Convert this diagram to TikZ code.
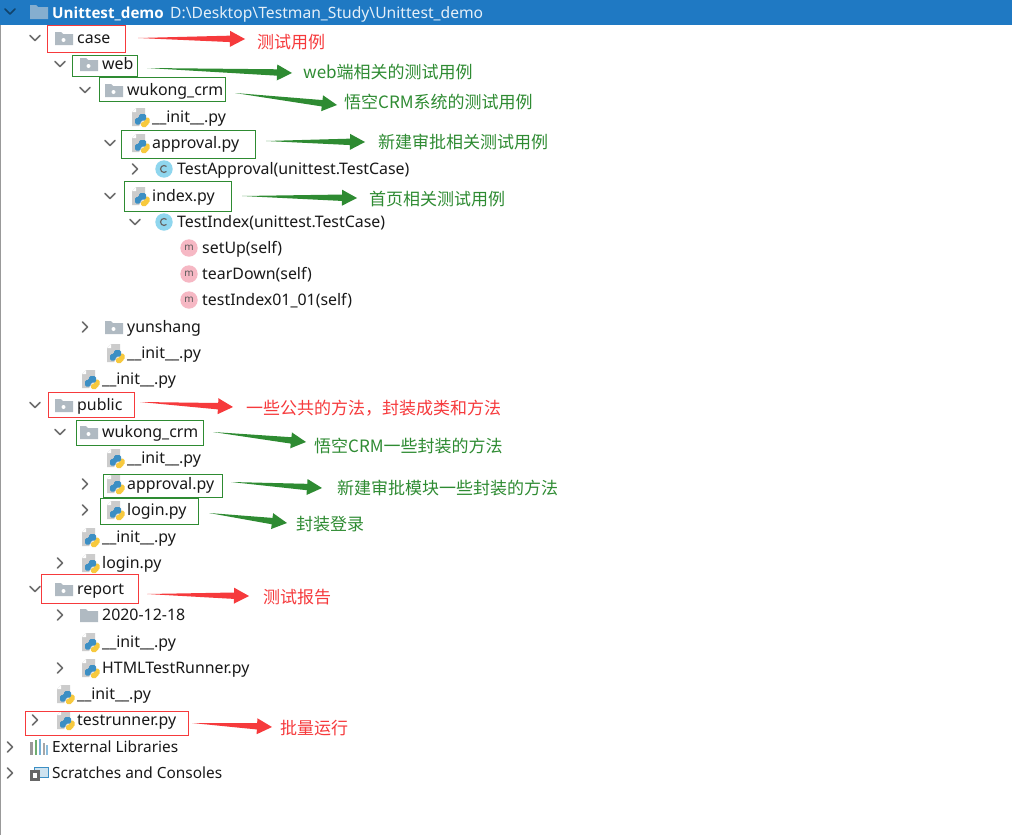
\documentclass[tikz,border=0pt]{standalone}
\usepackage{fontspec}
\setmainfont{Noto Sans}
\newfontfamily\cjkfont{Noto Sans CJK SC}
\newfontfamily\titlefont{Open Sans}
\usetikzlibrary{calc,fit}
\definecolor{hdr}{HTML}{1F79C3}
\definecolor{rd}{HTML}{F63A3C}
\definecolor{gn}{HTML}{2E8B32}
\definecolor{gl}{HTML}{B0BAC2}
\definecolor{chev}{HTML}{6E6E6E}
\definecolor{pyb}{HTML}{3C8FC4}
\definecolor{pyy}{HTML}{F7C93E}
\definecolor{cc}{HTML}{8FD6EE}
\definecolor{mm}{HTML}{F6B8C4}
\tikzset{
  x=1pt,y=-1pt,
  rowtext/.style={anchor=base west,inner sep=0pt,text=black!90,font=\fontsize{15.9}{18}\selectfont},
  lab/.style={anchor=west,inner sep=0pt,font=\cjkfont\fontsize{17}{19}\selectfont},
  redbox/.style={draw=rd,line width=1pt,inner sep=0pt},
  greenbox/.style={draw=gn,line width=1pt,inner sep=0pt},
  chevline/.style={draw=chev,line width=1.5pt,line cap=round,line join=round}
}
\newcommand{\cdown}[2]{\draw[chevline] (#1-5,#2-2.5) -- (#1,#2+2.5) -- (#1+5,#2-2.5);}
\newcommand{\cright}[2]{\draw[chevline] (#1-2.5,#2-5) -- (#1+2.5,#2) -- (#1-2.5,#2+5);}
\newcommand{\folder}[2]{% #1 text left, #2 row y
  \fill[gl] (#1-22,#2-6) -- (#1-16,#2-6) -- (#1-14,#2-4) -- (#1-4,#2-4) -- (#1-4,#2+7) -- (#1-22,#2+7) -- cycle;}
\newcommand{\pkgfolder}[2]{\folder{#1}{#2}\fill[white] (#1-13.5,#2+2) circle (2pt);}
\newcommand{\pyfile}[2]{%
  \fill[black!20] (#1-16,#2-9) -- (#1-7,#2-9) -- (#1-7,#2+1) -- (#1-13,#2+9) -- (#1-20,#2+9) -- (#1-20,#2-5) -- cycle;
  \fill[white] (#1-16,#2-9) -- (#1-16,#2-5) -- (#1-20,#2-5) -- cycle;
  \fill[pyy,rounded corners=1.5pt] (#1-7.5,#2+0.5) -- (#1-2.5,#2+0.5) -- (#1-2.5,#2+7) -- (#1-5,#2+7) -- (#1-5,#2+10) -- (#1-11,#2+10) -- (#1-11,#2+5) -- (#1-7.5,#2+5) -- cycle;
  \fill[pyb,rounded corners=1.5pt] (#1-13,#2-3) -- (#1-6,#2-3) -- (#1-6,#2+3.5) -- (#1-11.5,#2+3.5) -- (#1-11.5,#2+7.5) -- (#1-17,#2+7.5) -- (#1-17,#2+1) -- (#1-13,#2+1) -- cycle;}
\newcommand{\classicon}[2]{\fill[cc] (#1-13,#2) circle (8.7pt);
  \draw[black!60,line width=1.2pt] (#1-10.5,#2-2.5) arc (45:315:3.5pt);}
\newcommand{\methicon}[2]{\fill[mm] (#1-13,#2) circle (8.7pt);
  \node[inner sep=0pt,text=black!65,font=\fontsize{10}{10}\selectfont] at (#1-13,#2) {m};}
\newcommand{\row}[4]{\node[rowtext] (#1) at (#2,#3+5.8) {#4};}
\newcommand{\bx}[6]{\node[#2,fit={(#3,#4) (#5,#6)}] (#1) {};}
\newcommand{\tarrow}[3]{%
  \fill[#1] (#2)
   -- ($($(#3)!15pt!(#2)$)!3.2pt!90:(#2)$)
   -- ($($(#3)!15pt!(#2)$)!8pt!90:(#2)$)
   -- (#3)
   -- ($($(#3)!15pt!(#2)$)!8pt!-90:(#2)$)
   -- ($($(#3)!15pt!(#2)$)!3.2pt!-90:(#2)$)
   -- cycle;}
\begin{document}
\begin{tikzpicture}
\useasboundingbox (0,0) rectangle (1012,835);
\fill[white] (0,0) rectangle (1012,835);
\fill[black!40] (0,0) rectangle (1.2,835);
\fill[hdr] (0,0) rectangle (1012,25);
\draw[draw=black!45!hdr,line width=1.5pt,line cap=round,line join=round] (5,9) -- (10,14) -- (15,9);
\fill[black!15!white!55!hdr] (30,5) -- (36,5) -- (38,7) -- (48,7) -- (48,19) -- (30,19) -- cycle;
\node[anchor=base west,inner sep=0pt,text=white,font=\titlefont\bfseries\fontsize{15.2}{18}\selectfont] (title) at (52,18) {Unittest\_demo};
\node[anchor=base west,inner sep=0pt,text=white!88!hdr,font=\fontsize{15.65}{18}\selectfont] (path) at (170,18) {D:\textbackslash Desktop\textbackslash Testman\_Study\textbackslash Unittest\_demo};

% tree
\cdown{35}{38}\pkgfolder{77}{38}\row{r1}{77}{38}{case}
\cdown{60}{64}\pkgfolder{102}{64}\row{r2}{102}{64}{web}
\cdown{85}{90}\pkgfolder{127}{90}\row{r3}{127}{90}{wukong\_crm}
\pyfile{152}{117}\row{r4}{152}{117}{\_\_init\_\_.py}
\cdown{110}{143}\pyfile{152}{143}\row{r5}{152}{143}{approval.py}
\cright{135}{169}\classicon{177}{169}\row{r6}{177}{169}{TestApproval(unittest.TestCase)}
\cdown{110}{196}\pyfile{152}{196}\row{r7}{152}{196}{index.py}
\cdown{135}{222}\classicon{177}{222}\row{r8}{177}{222}{TestIndex(unittest.TestCase)}
\methicon{202}{248}\row{r9}{202}{248}{setUp(self)}
\methicon{202}{274}\row{r10}{202}{274}{tearDown(self)}
\methicon{202}{300}\row{r11}{202}{300}{testIndex01\_01(self)}
\cright{85}{327}\pkgfolder{127}{327}\row{r12}{127}{327}{yunshang}
\pyfile{127}{353}\row{r13}{127}{353}{\_\_init\_\_.py}
\pyfile{102}{379}\row{r14}{102}{379}{\_\_init\_\_.py}
\cdown{35}{405}\pkgfolder{77}{405}\row{r15}{77}{405}{public}
\cdown{60}{432}\pkgfolder{102}{432}\row{r16}{102}{432}{wukong\_crm}
\pyfile{127}{458}\row{r17}{127}{458}{\_\_init\_\_.py}
\cright{85}{484}\pyfile{127}{484}\row{r18}{127}{484}{approval.py}
\cright{85}{510}\pyfile{127}{510}\row{r19}{127}{510}{login.py}
\pyfile{102}{537}\row{r20}{102}{537}{\_\_init\_\_.py}
\cright{60}{563}\pyfile{102}{563}\row{r21}{102}{563}{login.py}
\cdown{35}{589}\pkgfolder{77}{589}\row{r22}{77}{589}{report}
\cright{60}{615}\folder{102}{615}\row{r23}{102}{615}{2020-12-18}
\pyfile{102}{642}\row{r24}{102}{642}{\_\_init\_\_.py}
\cright{60}{668}\pyfile{102}{668}\row{r25}{102}{668}{HTMLTestRunner.py}
\pyfile{77}{694}\row{r26}{77}{694}{\_\_init\_\_.py}
\cright{35}{720}\pyfile{77}{720}\row{r27}{77}{720}{testrunner.py}
\cright{10}{747}
\fill[black!40] (30,742) rectangle (33,755);
\fill[gn!70!white] (35,740) rectangle (37,755);
\fill[pyb!70!white] (39,739) rectangle (41,755);
\fill[black!35] (43,743) rectangle (45,755);
\fill[pyb!60!white] (46,745) rectangle (48,755);
\row{r28}{52}{747}{\fontsize{15.4}{18}\selectfont External Libraries}
\cright{10}{773}
\filldraw[fill=pyb!25!white,draw=pyb,line width=1pt] (34,767) rectangle (48,777);
\fill[black!60] (30,770) rectangle (40,781);
\fill[white] (33,773) rectangle (37,778);
\row{r29}{52}{773}{\fontsize{15.4}{18}\selectfont Scratches and Consoles}

% boxes
\bx{b1}{redbox}{47}{25}{125}{52}
\bx{b2}{greenbox}{72}{55}{137}{76}
\bx{b3}{greenbox}{99}{77}{225}{101}
\bx{b4}{greenbox}{121}{130}{255}{158}
\bx{b5}{greenbox}{124}{181}{231}{211}
\bx{b6}{redbox}{48}{392}{134}{417}
\bx{b7}{greenbox}{76}{420}{203}{445}
\bx{b8}{greenbox}{103}{474}{222}{497}
\bx{b9}{greenbox}{100}{498}{198}{524}
\bx{b10}{redbox}{41}{574}{138}{603}
\bx{b11}{redbox}{25}{711}{188}{735}

% arrow ends
\coordinate (s1) at (138,38);\coordinate (e1) at (245,39);
\coordinate (s2) at (147,68);\coordinate (e2) at (292,73);
\coordinate (s3) at (235,93);\coordinate (e3) at (337,105);
\coordinate (s4) at (266,141);\coordinate (e4) at (365,142);
\coordinate (s5) at (242,196);\coordinate (e5) at (357,198);
\coordinate (s6) at (140,402);\coordinate (e6) at (233,407);
\coordinate (s7) at (213,432);\coordinate (e7) at (306,442);
\coordinate (s8) at (231,482);\coordinate (e8) at (322,488);
\coordinate (s9) at (209,513);\coordinate (e9) at (287,523);
\coordinate (s10) at (147,594);\coordinate (e10) at (249,596);
\coordinate (s11) at (192,723);\coordinate (e11) at (272,727);
\tarrow{rd}{s1}{e1}
\tarrow{gn}{s2}{e2}
\tarrow{gn}{s3}{e3}
\tarrow{gn}{s4}{e4}
\tarrow{gn}{s5}{e5}
\tarrow{rd}{s6}{e6}
\tarrow{gn}{s7}{e7}
\tarrow{gn}{s8}{e8}
\tarrow{gn}{s9}{e9}
\tarrow{rd}{s10}{e10}
\tarrow{rd}{s11}{e11}

% labels
\node[lab,text=rd] (l1) at (257,42) {测试用例};
\node[lab,text=gn] (l2) at (303,72) {web端相关的测试用例};
\node[lab,text=gn] (l3) at (344,102) {悟空CRM系统的测试用例};
\node[lab,text=gn] (l4) at (378,142) {新建审批相关测试用例};
\node[lab,text=gn] (l5) at (369,199) {首页相关测试用例};
\node[lab,text=rd] (l6) at (246,408) {一些公共的方法，封装成类和方法};
\node[lab,text=gn] (l7) at (314,446) {悟空CRM一些封装的方法};
\node[lab,text=gn] (l8) at (337,488) {新建审批模块一些封装的方法};
\node[lab,text=gn] (l9) at (296,524) {封装登录};
\node[lab,text=rd] (l10) at (263,597) {测试报告};
\node[lab,text=rd] (l11) at (280,728) {批量运行};
\end{tikzpicture}
\end{document}
